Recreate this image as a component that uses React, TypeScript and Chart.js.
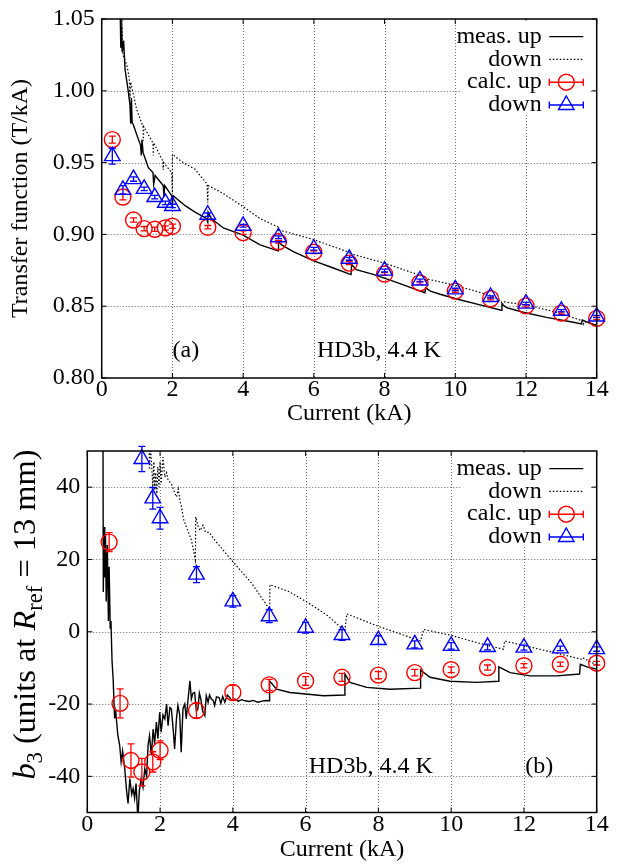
import React, { useEffect, useRef } from "react";
import { Chart, registerables } from "chart.js";

Chart.register(...registerables);

const SERIF = "'Liberation Serif', 'Times New Roman', Times, serif";
const RED = "#ff0000";
const BLUE = "#0000ff";

// ---------- shared ----------
const currentTicks = [0, 2, 4, 6, 8, 10, 12, 14];
const legendLabels = ["meas. up", "down", "calc. up", "down"];

// ---------- panel (a): transfer function ----------
const tfTicks = [0.8, 0.85, 0.9, 0.95, 1.0, 1.05];
const calcCurrentA = [0.3, 0.6, 0.9, 1.2, 1.5, 1.8, 2, 3, 4, 5, 6, 7, 8, 9, 10, 11, 12, 13, 14];
const calcUpA = [0.966, 0.926, 0.91, 0.904, 0.9036, 0.9045, 0.9057, 0.905, 0.9012, 0.8949, 0.8876, 0.88, 0.8724, 0.8662, 0.8605, 0.8552, 0.8502, 0.8452, 0.8415];
const calcUpErrA = [0.0025, 0.002, 0.0015, 0.0015, 0.0015, 0.0015, 0.0015, 0.0012, 0.0012, 0.001, 0.001, 0.001, 0.001, 0.001, 0.0008, 0.0008, 0.0008, 0.0008, 0.0008];
const calcDownA = [0.9545, 0.931, 0.9385, 0.9317, 0.926, 0.922, 0.9198, 0.9137, 0.906, 0.898, 0.89, 0.883, 0.8748, 0.8679, 0.8617, 0.8564, 0.8518, 0.8468, 0.8428];
const calcDownErrA = [0.0055, 0.003, 0.0015, 0.0012, 0.0012, 0.0012, 0.0012, 0.0012, 0.001, 0.001, 0.001, 0.001, 0.001, 0.001, 0.0008, 0.0008, 0.0008, 0.0008, 0.0008];
const measUpCurrentA = [0.52, 0.54, 0.56, 0.58, 0.62, 0.66, 0.75, 0.8, 0.82, 0.84, 0.86, 0.9, 1.04, 1.1, 1.12, 1.14, 1.17, 1.32, 1.45, 1.47, 1.51, 1.74, 1.76, 1.78, 1.98, 2.0, 2.02, 2.36, 2.64, 2.97, 3.0, 3.01, 3.1, 3.44, 4.0, 4.48, 4.99, 5.0, 5.1, 5.42, 5.98, 6.55, 7.05, 7.07, 7.2, 7.68, 8.06, 8.63, 9.14, 9.16, 9.3, 9.57, 10.04, 10.7, 11.3, 11.32, 11.45, 11.92, 12.58, 13.34, 13.57, 13.59, 13.7, 14.0];
const measUpA = [1.06, 1.03, 1.045, 1.027, 1.035, 1.015, 1.0, 0.99, 0.977, 0.995, 0.978, 0.976, 0.966, 0.962, 0.955, 0.966, 0.957, 0.9465, 0.943, 0.935, 0.941, 0.934, 0.926, 0.934, 0.927, 0.921, 0.927, 0.92, 0.9155, 0.911, 0.9086, 0.9155, 0.911, 0.9045, 0.8995, 0.8927, 0.8885, 0.8949, 0.8925, 0.888, 0.8818, 0.8766, 0.872, 0.879, 0.8755, 0.8722, 0.869, 0.864, 0.8594, 0.8628, 0.8605, 0.8583, 0.855, 0.8509, 0.8472, 0.8514, 0.849, 0.8458, 0.8422, 0.8388, 0.8376, 0.8404, 0.8392, 0.8365];
const measDownCurrentA = [0.54, 0.555, 0.57, 0.6, 0.71, 0.78, 0.8, 0.82, 0.99, 1.17, 1.18, 1.19, 1.45, 1.46, 1.47, 1.73, 1.74, 1.75, 1.98, 2.0, 2.0, 2.3, 2.64, 2.98, 3.0, 3.01, 3.4, 3.96, 4.48, 5.0, 5.0, 5.03, 5.98, 7.0, 7.02, 7.05, 8.0, 9.0, 9.15, 9.17, 9.2, 10.0, 11.0, 11.3, 11.33, 11.37, 12.0, 12.9, 13.6, 13.62, 13.65, 14.0];
const measDownA = [1.06, 1.03, 1.05, 1.025, 1.018, 1.009, 0.995, 1.006, 0.987, 0.975, 0.965, 0.975, 0.9637, 0.955, 0.9637, 0.951, 0.945, 0.95, 0.943, 0.929, 0.9557, 0.95, 0.9454, 0.935, 0.922, 0.934, 0.929, 0.92, 0.911, 0.905, 0.897, 0.903, 0.8965, 0.8875, 0.882, 0.8865, 0.88, 0.8715, 0.87, 0.867, 0.869, 0.8645, 0.8575, 0.8535, 0.851, 0.853, 0.851, 0.8455, 0.8398, 0.8375, 0.8392, 0.8368];

// ---------- panel (b): b3 ----------
const b3Ticks = [-40, -20, 0, 20, 40];
const calcUpCurrentB = [0.6, 0.9, 1.2, 1.5, 1.8, 2, 3, 4, 5, 6, 7, 8, 9, 10, 11, 12, 13, 14];
const calcUpB = [24.8, -19.8, -35.6, -38.8, -36.0, -32.8, -21.8, -16.8, -14.7, -13.6, -12.6, -12.0, -11.3, -10.5, -9.9, -9.4, -9.0, -8.7];
const calcUpErrB = [2.6, 4, 4.6, 3.8, 2.8, 2.6, 2, 2, 1.5, 1.2, 1.1, 1, 0.9, 0.8, 0.7, 0.6, 0.6, 0.5];
const calcDownCurrentB = [1.5, 1.8, 2, 3, 4, 5, 6, 7, 8, 9, 10, 11, 12, 13, 14];
const calcDownB = [47.8, 36.9, 31.4, 15.8, 8.4, 4.3, 1.1, -0.9, -2.3, -3.5, -3.9, -4.2, -4.4, -4.6, -4.8];
const calcDownErrB = [3.5, 3, 3, 2.2, 1.6, 1.8, 1.5, 1.5, 1.2, 1, 0.9, 0.8, 0.7, 0.6, 0.6];
const measUpCurrentB = [0.43, 0.44, 0.46, 0.48, 0.5, 0.52, 0.55, 0.58, 0.6, 0.63, 0.65, 0.68, 0.71, 0.75, 0.78, 0.84, 0.89, 0.93, 0.97, 1.03, 1.08, 1.12, 1.17, 1.22, 1.26, 1.3, 1.34, 1.39, 1.43, 1.48, 1.53, 1.58, 1.63, 1.67, 1.71, 1.76, 1.81, 1.85, 1.9, 1.94, 1.99, 2.03, 2.08, 2.13, 2.18, 2.22, 2.27, 2.31, 2.36, 2.4, 2.45, 2.49, 2.54, 2.58, 2.63, 2.68, 2.72, 2.77, 2.82, 2.86, 2.9, 2.95, 3.0, 3.04, 3.08, 3.12, 3.17, 3.23, 3.27, 3.32, 3.36, 3.41, 3.46, 3.5, 3.55, 3.62, 3.67, 3.72, 3.78, 3.85, 3.91, 3.97, 4.05, 4.15, 4.25, 4.33, 4.45, 4.55, 4.69, 4.8, 4.92, 5.0, 5.01, 5.2, 5.57, 6.0, 6.49, 7.07, 7.08, 7.22, 7.68, 8.32, 9.15, 9.16, 9.42, 9.97, 10.7, 11.3, 11.31, 11.62, 12.17, 12.9, 13.53, 13.55, 13.75, 14.0];
const measUpB = [60, 11, 29, 15, 27, 8.4, 24, 3, 18, 1, 3, -8, -13, -24, -22, -28.7, -31.4, -36, -33, -38, -44, -47.5, -40.6, -45, -43.4, -46.1, -42, -52, -44, -40.6, -43, -37.9, -40, -31.4, -28.7, -34.2, -26.9, -31, -25, -29.6, -22.3, -27.8, -23, -24.1, -20, -26, -21, -21.3, -27, -32.4, -24.1, -20.4, -23, -33.3, -21.3, -20, -24.1, -18.6, -13.6, -18.6, -17, -16.8, -22, -21.3, -17, -18.6, -22, -23.2, -17.7, -19.5, -17.5, -18.6, -19, -20.4, -18, -18.2, -19.8, -17.9, -19.5, -17.5, -18.2, -19, -18.6, -19.2, -18.8, -19.1, -19.3, -19, -19.5, -19.2, -19, -19.1, -13.6, -15.9, -16.8, -17.2, -17.7, -17.5, -11.7, -14.0, -15.4, -15.9, -15.6, -10.6, -12.6, -13.7, -14.0, -13.7, -9.7, -11.3, -12.2, -12.2, -11.7, -9.0, -9.8, -10.3];
const measDownCurrentB = [1.68, 1.71, 1.73, 1.77, 1.8, 1.83, 1.85, 1.88, 1.91, 1.94, 1.97, 2.0, 2.03, 2.08, 2.13, 2.18, 2.22, 2.31, 2.38, 2.45, 2.5, 2.55, 2.58, 2.65, 2.72, 2.86, 2.97, 2.98, 3.05, 3.1, 3.18, 3.25, 3.35, 3.5, 4.0, 4.51, 5.01, 5.02, 5.52, 6.07, 6.6, 7.08, 7.13, 8.0, 9.16, 9.24, 10.0, 10.7, 11.44, 11.47, 12.5, 13.59, 13.62, 14.0];
const measDownB = [60, 44.8, 52, 46, 40, 47, 39.2, 44, 38.2, 45.6, 40, 47, 41, 48.3, 42.8, 44, 41.9, 41, 39, 37.3, 39.5, 36, 35, 31, 29.1, 25.4, 19.9, 31.8, 29, 28, 29.5, 27.5, 27.5, 25.4, 19.4, 13.5, 6.2, 13.0, 11.2, 8.0, 4.5, 0.2, 4.95, 1.5, -2.56, 0.65, -1.0, -3.0, -4.85, -2.56, -5.0, -7.6, -7.2, -9.2];

type Note = { text: string; x: number; y: number };
type Panel = {
  calcUpX: number[]; calcUp: number[]; calcUpErr: number[];
  calcDownX: number[]; calcDown: number[]; calcDownErr: number[];
  measUpX: number[]; measUp: number[]; measDownX: number[]; measDown: number[];
  yTicks: number[]; yMin: number; yMax: number; decimals: number;
  yAxisWidth: number; padTop: number; xAxisHeight: number; xTitlePad: number;
  yTitle: string | null; richTitle: boolean; notes: Note[]; height: number;
};

const panelA: Panel = {
  calcUpX: calcCurrentA, calcUp: calcUpA, calcUpErr: calcUpErrA,
  calcDownX: calcCurrentA, calcDown: calcDownA, calcDownErr: calcDownErrA,
  measUpX: measUpCurrentA, measUp: measUpA, measDownX: measDownCurrentA, measDown: measDownA,
  yTicks: tfTicks, yMin: 0.8, yMax: 1.05, decimals: 2,
  yAxisWidth: 101.7, padTop: 14, xAxisHeight: 54, xTitlePad: 6,
  yTitle: "Transfer function (T/kA)", richTitle: false,
  notes: [{ text: "(a)", x: 2.38, y: 0.8193 }, { text: "HD3b, 4.4 K", x: 7.84, y: 0.8193 }],
  height: 432,
};

const panelB: Panel = {
  calcUpX: calcUpCurrentB, calcUp: calcUpB, calcUpErr: calcUpErrB,
  calcDownX: calcDownCurrentB, calcDown: calcDownB, calcDownErr: calcDownErrB,
  measUpX: measUpCurrentB, measUp: measUpB, measDownX: measDownCurrentB, measDown: measDownB,
  yTicks: b3Ticks, yMin: -50, yMax: 50, decimals: 0,
  yAxisWidth: 87.3, padTop: 16.3, xAxisHeight: 52.5, xTitlePad: 3.3,
  yTitle: null, richTitle: true,
  notes: [{ text: "HD3b, 4.4 K", x: 7.79, y: -37.4 }, { text: "(b)", x: 12.42, y: -37.3 }],
  height: 433,
};

const pts = (xs: number[], ys: number[]) => xs.map((x, i) => ({ x, y: ys[i] }));

function triangle(ctx: CanvasRenderingContext2D, x: number, y: number, r: number) {
  ctx.beginPath();
  ctx.moveTo(x, y - r);
  ctx.lineTo(x + 0.866 * r, y + 0.5 * r);
  ctx.lineTo(x - 0.866 * r, y + 0.5 * r);
  ctx.closePath();
  ctx.stroke();
}

function errBars(chart: any, xs: number[], ys: number[], errs: number[], color: string) {
  const { ctx, scales } = chart;
  const sx = scales.x, sy = scales.y;
  ctx.save();
  ctx.strokeStyle = color;
  ctx.lineWidth = 1.3;
  ctx.setLineDash([]);
  for (let i = 0; i < xs.length; i++) {
    const px = sx.getPixelForValue(xs[i]);
    const t = sy.getPixelForValue(ys[i] + errs[i]);
    const b = sy.getPixelForValue(ys[i] - errs[i]);
    ctx.beginPath();
    ctx.moveTo(px, t); ctx.lineTo(px, b);
    ctx.moveTo(px - 3.5, t); ctx.lineTo(px + 3.5, t);
    ctx.moveTo(px - 3.5, b); ctx.lineTo(px + 3.5, b);
    ctx.stroke();
  }
  ctx.restore();
}

function decor(p: Panel) {
  return {
    id: "panelDecor",
    beforeDatasetsDraw(chart: any) {
      const { ctx, chartArea: a, scales } = chart;
      ctx.save();
      ctx.strokeStyle = "#6a6a6a";
      ctx.lineWidth = 1;
      ctx.setLineDash([1, 2]);
      for (const v of currentTicks) {
        const px = Math.round(scales.x.getPixelForValue(v)) + 0.5;
        if (px < a.left + 2 || px > a.right - 2) continue;
        ctx.beginPath(); ctx.moveTo(px, a.top); ctx.lineTo(px, a.bottom); ctx.stroke();
      }
      for (const v of p.yTicks) {
        const py = Math.round(scales.y.getPixelForValue(v)) + 0.5;
        if (py < a.top + 2 || py > a.bottom - 2) continue;
        ctx.beginPath(); ctx.moveTo(a.left, py); ctx.lineTo(a.right, py); ctx.stroke();
      }
      ctx.restore();
    },
    afterDatasetDraw(chart: any, args: any) {
      if (args.index === 0) errBars(chart, p.calcDownX, p.calcDown, p.calcDownErr, BLUE);
      if (args.index === 1) errBars(chart, p.calcUpX, p.calcUp, p.calcUpErr, RED);
    },
    afterDraw(chart: any) {
      const { ctx, chartArea: a, scales } = chart;
      ctx.save();
      ctx.setLineDash([]);
      // inward ticks
      ctx.strokeStyle = "#000";
      ctx.lineWidth = 1;
      for (const v of currentTicks) {
        const px = scales.x.getPixelForValue(v);
        ctx.beginPath();
        ctx.moveTo(px, a.bottom); ctx.lineTo(px, a.bottom - 5);
        ctx.moveTo(px, a.top); ctx.lineTo(px, a.top + 5);
        ctx.stroke();
      }
      for (const v of p.yTicks) {
        const py = scales.y.getPixelForValue(v);
        ctx.beginPath();
        ctx.moveTo(a.left, py); ctx.lineTo(a.left + 5, py);
        ctx.moveTo(a.right, py); ctx.lineTo(a.right - 5, py);
        ctx.stroke();
      }
      // frame
      ctx.lineWidth = 1.5;
      ctx.strokeRect(a.left, a.top, a.right - a.left, a.bottom - a.top);

      // legend
      const rowY = (i: number) => a.top + 17.6 + i * 22.8;
      ctx.fillStyle = "#fff";
      ctx.fillRect(462, a.top + 1.5, a.right - 7 - 462, rowY(3) + 10 - a.top - 1.5);
      const tx = a.right - 55;
      const s1 = a.right - 47.4, s2 = a.right - 13.4, sc = (s1 + s2) / 2;
      ctx.font = `24px ${SERIF}`;
      ctx.textAlign = "right";
      ctx.textBaseline = "middle";
      ctx.fillStyle = "#000";
      legendLabels.forEach((lab, i) => {
        const y = rowY(i);
        ctx.fillText(lab, tx, y);
        ctx.setLineDash([]);
        if (i === 0 || i === 1) {
          ctx.strokeStyle = "#000";
          ctx.lineWidth = 1.3;
          if (i === 1) ctx.setLineDash([1.5, 2]);
          ctx.beginPath(); ctx.moveTo(s1, y); ctx.lineTo(s2, y); ctx.stroke();
          ctx.setLineDash([]);
        } else {
          const col = i === 2 ? RED : BLUE;
          ctx.strokeStyle = col;
          ctx.lineWidth = 1.4;
          ctx.beginPath();
          ctx.moveTo(s1, y); ctx.lineTo(s2, y);
          ctx.moveTo(s1, y - 3.5); ctx.lineTo(s1, y + 3.5);
          ctx.moveTo(s2, y - 3.5); ctx.lineTo(s2, y + 3.5);
          ctx.stroke();
          if (i === 2) {
            ctx.beginPath(); ctx.arc(sc, y, 8, 0, Math.PI * 2); ctx.stroke();
          } else {
            triangle(ctx, sc, y, 9);
          }
        }
      });

      // notes
      ctx.fillStyle = "#000";
      ctx.textAlign = "center";
      ctx.textBaseline = "middle";
      ctx.font = `24px ${SERIF}`;
      for (const n of p.notes) {
        ctx.fillText(n.text, scales.x.getPixelForValue(n.x), scales.y.getPixelForValue(n.y));
      }

      // rich y title for panel (b)
      if (p.richTitle) {
        const size = 32.4;
        const subSize = 22.7;
        const pieces = [
          { t: "b", f: `italic ${size}px ${SERIF}`, dy: 0 },
          { t: "3", f: `${subSize}px ${SERIF}`, dy: 7 },
          { t: " (units at ", f: `${size}px ${SERIF}`, dy: 0 },
          { t: "R", f: `italic ${size}px ${SERIF}`, dy: 0 },
          { t: "ref", f: `${subSize}px ${SERIF}`, dy: 7 },
          { t: " = 13 mm)", f: `${size}px ${SERIF}`, dy: 0 },
        ];
        const widths = pieces.map((pc) => { ctx.font = pc.f; return ctx.measureText(pc.t).width; });
        const total = widths.reduce((u, v) => u + v, 0);
        ctx.translate(35, a.top - 1.5 + total);
        ctx.rotate(-Math.PI / 2);
        ctx.textAlign = "left";
        ctx.textBaseline = "alphabetic";
        let xx = 0;
        pieces.forEach((pc, i) => { ctx.font = pc.f; ctx.fillText(pc.t, xx, pc.dy); xx += widths[i]; });
      }
      ctx.restore();
    },
  };
}

function buildConfig(p: Panel): any {
  const tickFont = { family: SERIF, size: 24, lineHeight: 1 };
  return {
    type: "scatter",
    data: {
      datasets: [
        { label: "calc. down", data: pts(p.calcDownX, p.calcDown), showLine: false, pointStyle: "triangle", pointRadius: 9, pointBorderWidth: 1.4, borderColor: BLUE, backgroundColor: "rgba(0,0,0,0)", order: 0, clip: false },
        { label: "calc. up", data: pts(p.calcUpX, p.calcUp), showLine: false, pointStyle: "circle", pointRadius: 8, pointBorderWidth: 1.4, borderColor: RED, backgroundColor: "rgba(0,0,0,0)", order: 1, clip: false },
        { label: "meas. down", data: pts(p.measDownX, p.measDown), showLine: true, pointRadius: 0, borderColor: "#000", borderWidth: 1.2, borderDash: [1.5, 2], order: 2 },
        { label: "meas. up", data: pts(p.measUpX, p.measUp), showLine: true, pointRadius: 0, borderColor: "#000", borderWidth: 1.4, order: 3 },
      ],
    },
    options: {
      responsive: false,
      animation: false,
      devicePixelRatio: 1,
      events: [],
      layout: { padding: { left: 0, right: 29.3, top: p.padTop, bottom: 0 } },
      plugins: { legend: { display: false }, tooltip: { enabled: false }, title: { display: false } },
      scales: {
        x: {
          type: "linear", position: "bottom", min: 0, max: 14,
          afterBuildTicks: (s: any) => { s.ticks = currentTicks.map((v) => ({ value: v })); },
          afterFit: (s: any) => { s.height = p.xAxisHeight; },
          grid: { display: false, drawTicks: false },
          border: { display: false },
          ticks: { color: "#000", font: tickFont, padding: 0, maxRotation: 0, autoSkip: false, callback: (v: any) => String(v) },
          title: { display: true, text: "Current (kA)", color: "#000", font: tickFont, padding: { top: 0, bottom: p.xTitlePad } },
        },
        y: {
          type: "linear", position: "left", min: p.yMin, max: p.yMax,
          afterBuildTicks: (s: any) => { s.ticks = p.yTicks.map((v) => ({ value: v })); },
          afterFit: (s: any) => { s.width = p.yAxisWidth; },
          grid: { display: false, drawTicks: false },
          border: { display: false },
          ticks: { color: "#000", font: tickFont, padding: 7, autoSkip: false, callback: (v: any) => Number(v).toFixed(p.decimals) },
          title: p.yTitle
            ? { display: true, text: p.yTitle, color: "#000", font: tickFont, padding: { top: 9, bottom: 0 } }
            : { display: false },
        },
      },
    },
    plugins: [decor(p)],
  };
}

export default function App() {
  const refA = useRef<HTMLCanvasElement>(null);
  const refB = useRef<HTMLCanvasElement>(null);
  useEffect(() => {
    const ca = new Chart(refA.current as HTMLCanvasElement, buildConfig(panelA));
    const cb = new Chart(refB.current as HTMLCanvasElement, buildConfig(panelB));
    return () => { ca.destroy(); cb.destroy(); };
  }, []);
  return (
    <div style={{ position: "absolute", left: 0, top: 0, width: 626, height: 865, background: "#fff" }}>
      <canvas ref={refA} width={626} height={panelA.height} style={{ display: "block", width: 626, height: panelA.height }} />
      <canvas ref={refB} width={626} height={panelB.height} style={{ display: "block", width: 626, height: panelB.height }} />
    </div>
  );
}
